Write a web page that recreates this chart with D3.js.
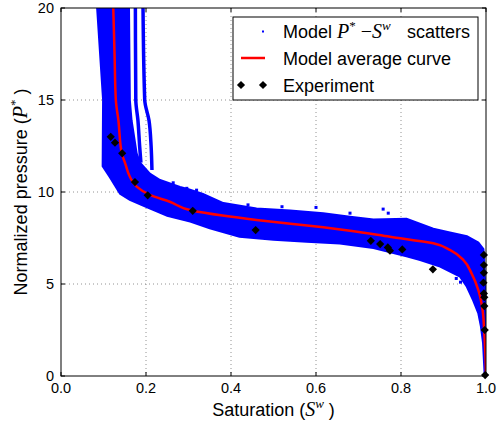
<!DOCTYPE html>
<html lang="en">
<head>
  <meta charset="UTF-8">
  <title>P* - Sw</title>
  <script src="https://d3js.org/d3.v7.min.js"></script>
  <style>
    body { margin: 0; background: #fff; }
    text { font-family: "Liberation Sans", Arial, sans-serif; fill: #000; }
    .math { font-family: "Liberation Serif", "DejaVu Serif", serif; font-style: italic; }
  </style>
</head>
<body>
<svg width="497" height="430"></svg>
<script>
// ---- data ----
var xTicks = [0, 0.2, 0.4, 0.6, 0.8, 1.0];
var yTicks = [0, 5, 10, 15, 20];

// average model curve (S, P)
var curveS = [0.123, 0.126, 0.129, 0.135, 0.143, 0.151, 0.162, 0.178, 0.209, 0.256, 0.31, 0.38, 0.46, 0.54, 0.617, 0.68, 0.774, 0.876, 0.915, 0.947, 0.966, 0.982, 0.992, 0.996, 0.999, 1.0];
var curveP = [20, 17.5, 15, 13.9, 12.1, 11.56, 10.83, 10.29, 9.84, 9.47, 8.98, 8.72, 8.48, 8.27, 8.08, 7.9, 7.57, 7.21, 6.85, 6.3, 5.58, 4.67, 3.59, 2.33, 1.0, 0];

// experiment points
var expS = [0.117, 0.127, 0.144, 0.174, 0.204, 0.31, 0.458, 0.729, 0.751, 0.769, 0.774, 0.803, 0.875, 0.995, 0.995, 0.995, 0.994, 0.995, 0.996, 0.996, 0.997, 0.998];
var expP = [13.0, 12.68, 12.1, 10.54, 9.82, 8.98, 7.93, 7.35, 7.17, 6.99, 6.81, 6.88, 5.8, 6.58, 6.03, 5.61, 5.07, 4.49, 4.28, 3.8, 2.5, 0.05];

// outline of the blue scatter band: upper edge left->right, then lower edge right->left
var bandS = [0.085, 0.160, 0.162, 0.166, 0.178, 0.186, 0.209, 0.233, 0.28, 0.30, 0.334, 0.382, 0.46, 0.539, 0.617, 0.68, 0.735, 0.813, 0.876, 0.915, 0.955, 0.982, 0.994, 0.998, 1.0,
             0.997, 0.993, 0.988, 0.982, 0.97, 0.955, 0.939, 0.892, 0.845, 0.813, 0.735, 0.656, 0.578, 0.5, 0.42, 0.35, 0.304, 0.25, 0.2, 0.162, 0.139, 0.115, 0.098, 0.099, 0.085];
var bandP = [20, 20, 15, 13.9, 12.1, 11.6, 11.0, 10.65, 10.27, 10.15, 9.9, 9.4, 9.1, 9.0, 8.85, 8.66, 8.5, 8.55, 8.0, 7.8, 7.6, 7.25, 6.9, 5.0, 0,
             0, 1.8, 2.7, 3.4, 4.1, 4.85, 5.4, 5.95, 6.3, 6.5, 6.96, 7.2, 7.3, 7.4, 7.57, 8.03, 8.39, 8.7, 9.2, 9.57, 9.9, 10.8, 11.4, 15, 20];

// separate thin model curves near the vertical part
var strandAS = [0.175, 0.176, 0.181, 0.185, 0.188];
var strandAP = [20, 15, 13.9, 12.5, 11.6];
var strandBS = [0.193, 0.197, 0.207, 0.212, 0.214];
var strandBP = [20, 15, 13.9, 12.5, 11.2];

// loose scatter dots at the band's edge
var dotS = [0.264, 0.296, 0.319, 0.6, 0.758, 0.77, 0.52, 0.44, 0.68, 0.93, 0.94];
var dotP = [10.5, 10.2, 10.1, 9.16, 9.07, 8.85, 9.2, 9.3, 8.85, 5.3, 5.1];

// ---- chart ----
var svg = d3.select("svg");
var mLeft = 61, mRight = 486, mTop = 8, mBottom = 376;

var x = d3.scaleLinear().domain([0, 1]).range([mLeft, mRight]);
var y = d3.scaleLinear().domain([0, 20]).range([mBottom, mTop]);

svg.append("clipPath").attr("id", "plot")
  .append("rect").attr("x", mLeft).attr("y", mTop)
  .attr("width", mRight - mLeft).attr("height", mBottom - mTop);

// grid
var grid = svg.append("g").attr("stroke", "#777").attr("stroke-width", 0.8).attr("stroke-dasharray", "1,3");
grid.selectAll(".gx").data(xTicks.slice(1, -1)).enter().append("line")
  .attr("x1", function(d) { return x(d); }).attr("x2", function(d) { return x(d); })
  .attr("y1", mTop).attr("y2", mBottom);
grid.selectAll(".gy").data(yTicks.slice(1, -1)).enter().append("line")
  .attr("y1", function(d) { return y(d); }).attr("y2", function(d) { return y(d); })
  .attr("x1", mLeft).attr("x2", mRight);

var plot = svg.append("g").attr("clip-path", "url(#plot)");
var toXY = d3.line().x(function(d) { return x(d[0]); }).y(function(d) { return y(d[1]); });

var band = bandS.map(function(s, i) { return [s, bandP[i]]; });
plot.append("path")
  .attr("d", toXY(band) + "Z")
  .attr("fill", "#0000ff").attr("stroke", "#0000ff").attr("stroke-width", 2);

var thinLine = d3.line().x(function(d) { return x(d[0]); }).y(function(d) { return y(d[1]); }).curve(d3.curveMonotoneY);
[[strandAS, strandAP], [strandBS, strandBP]].forEach(function(st) {
  plot.append("path")
    .attr("d", thinLine(st[0].map(function(s, i) { return [s, st[1][i]]; })))
    .attr("fill", "none").attr("stroke", "#0000ff").attr("stroke-width", 3.5);
});

plot.selectAll(".dot").data(dotS).enter().append("rect")
  .attr("x", function(d) { return x(d) - 1.5; })
  .attr("y", function(d, i) { return y(dotP[i]) - 1.5; })
  .attr("width", 3).attr("height", 3).attr("fill", "#0000ff");

var avg = curveS.map(function(s, i) { return [s, curveP[i]]; });
plot.append("path")
  .attr("d", thinLine(avg))
  .attr("fill", "none").attr("stroke", "#ff0000").attr("stroke-width", 2.5);

var diamond = d3.symbol().type(d3.symbolSquare).size(34);
svg.append("g").selectAll("path").data(expS).enter().append("path")
  .attr("d", diamond)
  .attr("transform", function(d, i) { return "translate(" + x(d) + "," + y(expP[i]) + ") rotate(45)"; })
  .attr("fill", "#000");

// frame and ticks (inward, all sides)
svg.append("rect").attr("x", mLeft).attr("y", mTop).attr("width", mRight - mLeft).attr("height", mBottom - mTop)
  .attr("fill", "none").attr("stroke", "#000").attr("stroke-width", 1);

var ticks = svg.append("g").attr("stroke", "#000").attr("stroke-width", 1);
xTicks.forEach(function(t) {
  ticks.append("line").attr("x1", x(t)).attr("x2", x(t)).attr("y1", mBottom).attr("y2", mBottom - 4);
  ticks.append("line").attr("x1", x(t)).attr("x2", x(t)).attr("y1", mTop).attr("y2", mTop + 4);
});
yTicks.forEach(function(t) {
  ticks.append("line").attr("y1", y(t)).attr("y2", y(t)).attr("x1", mLeft).attr("x2", mLeft + 4);
  ticks.append("line").attr("y1", y(t)).attr("y2", y(t)).attr("x1", mRight).attr("x2", mRight - 4);
});

svg.append("g").selectAll("text").data(xTicks).enter().append("text")
  .attr("x", function(d) { return x(d); }).attr("y", mBottom + 17)
  .attr("text-anchor", "middle").attr("font-size", 14.5)
  .text(function(d) { return d3.format(".1f")(d); });

svg.append("g").selectAll("text").data(yTicks).enter().append("text")
  .attr("x", mLeft - 7).attr("y", function(d) { return y(d) + 5; })
  .attr("text-anchor", "end").attr("font-size", 14.5)
  .text(function(d) { return d; });

// axis labels
var xl = svg.append("text").attr("x", (mLeft + mRight) / 2).attr("y", 416)
  .attr("text-anchor", "middle").attr("font-size", 18);
xl.append("tspan").text("Saturation (");
xl.append("tspan").attr("class", "math").attr("font-size", 20).text("S");
xl.append("tspan").attr("class", "math").attr("font-size", 13).attr("dy", -8).text("w");
xl.append("tspan").attr("dy", 8).text("  )");

var yl = svg.append("text").attr("transform", "translate(27," + ((mTop + mBottom) / 2) + ") rotate(-90)")
  .attr("text-anchor", "middle").attr("font-size", 18);
yl.append("tspan").text("Normalized pressure (");
yl.append("tspan").attr("class", "math").attr("font-size", 20).text("P");
yl.append("tspan").attr("font-size", 13).attr("dy", -8).attr("font-family", "Liberation Serif").text("*");
yl.append("tspan").attr("dy", 8).text(" )");

// legend
var lg = svg.append("g");
lg.append("rect").attr("x", 233).attr("y", 17).attr("width", 245).attr("height", 83)
  .attr("fill", "#fff").attr("stroke", "#000").attr("stroke-width", 1);

var rowY = [31.5, 58, 85];
lg.append("rect").attr("x", 262).attr("y", rowY[0] - 1).attr("width", 2).attr("height", 2).attr("fill", "#0000ff");
lg.append("line").attr("x1", 241).attr("x2", 265).attr("y1", rowY[1]).attr("y2", rowY[1])
  .attr("stroke", "#ff0000").attr("stroke-width", 2.5);
[241, 263].forEach(function(px) {
  lg.append("path").attr("d", diamond).attr("transform", "translate(" + px + "," + rowY[2] + ") rotate(45)").attr("fill", "#000");
});

var t1 = lg.append("text").attr("x", 283).attr("y", rowY[0] + 6.5).attr("font-size", 18);
t1.append("tspan").text("Model ");
t1.append("tspan").attr("class", "math").attr("font-size", 20).text("P");
t1.append("tspan").attr("font-size", 13).attr("dy", -8).attr("font-family", "Liberation Serif").text("*");
t1.append("tspan").attr("dy", 8).attr("font-family", "Liberation Serif").attr("font-size", 20).text(" \u2212");
t1.append("tspan").attr("class", "math").attr("font-size", 20).text("S");
t1.append("tspan").attr("class", "math").attr("font-size", 13).attr("dy", -8).text("w");
t1.append("tspan").attr("dy", 8).attr("x", 407).text("scatters");

lg.append("text").attr("x", 283).attr("y", rowY[1] + 6.5).attr("font-size", 18).text("Model average curve");
lg.append("text").attr("x", 283).attr("y", rowY[2] + 6.5).attr("font-size", 18).text("Experiment");
</script>
</body>
</html>
